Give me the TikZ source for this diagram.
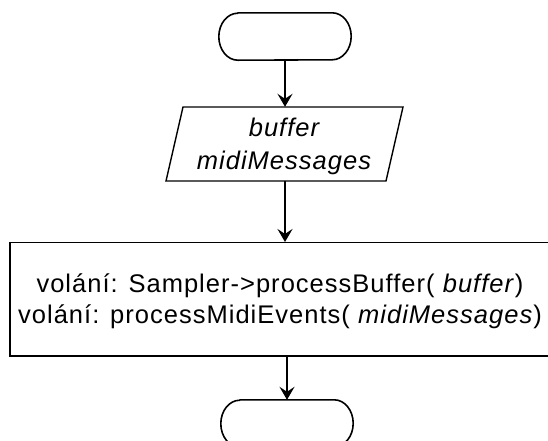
\documentclass[tikz,border=0pt]{standalone}
\usepackage{fontspec}
\newfontfamily\labfont{Liberation Sans}[LetterSpace=4]
\usetikzlibrary{arrows.meta}
\newcommand\termshape[1]{%
  \draw[termline] ([xshift=19pt]#1.north west) -- ([xshift=-19pt]#1.north east)
    arc[start angle=90,end angle=-90,x radius=19pt,y radius=23.5pt]
    -- ([xshift=19pt]#1.south west)
    arc[start angle=270,end angle=90,x radius=19pt,y radius=23.5pt] -- cycle;}
\begin{document}
\begin{tikzpicture}[x=1pt,y=-1pt,
  termline/.style={line width=1.6pt, line join=round},
  boxline/.style={line width=1.4pt},
  flow/.style={line width=2pt, -{Stealth[length=13pt,width=15pt,inset=5pt]}},
  lab/.style={font=\labfont\fontsize{25.5}{30.6}\selectfont, align=center, inner sep=0pt}]
\useasboundingbox (0,0) rectangle (548,440);
% terminals
\node[minimum width=132pt, minimum height=47pt, inner sep=0pt] (start) at (285,36.5) {};
\termshape{start}
\node[minimum width=132pt, minimum height=47pt, inner sep=0pt] (stop) at (287,423.5) {};
\termshape{stop}
% input/output parallelogram
\node[minimum width=220pt, minimum height=74pt, inner sep=0pt] (io) at (285,144) {};
\draw[boxline] (183,107) -- (403,107) -- (386,181) -- (166,181) -- cycle;
\node[lab, font=\labfont\fontsize{25.5}{33}\selectfont] (iotext) at (284,146) {\itshape buffer\\\itshape midiMessages};
% process box
\node[draw, boxline, minimum width=540pt, minimum height=113.3pt, inner sep=0pt] (proc) at (280,299.35) {};
\node[lab] (proctext) at (280,301) {volání: Sampler->processBuffer( \textit{buffer})\\volání: processMidiEvents( \textit{midiMessages})};
% connectors
\draw[flow] (start.south) -- (io.north);
\draw[flow] (io.south) -- (io.south |- proc.north);
\draw[flow] (stop.north |- proc.south) -- (stop.north);
\end{tikzpicture}
\end{document}
